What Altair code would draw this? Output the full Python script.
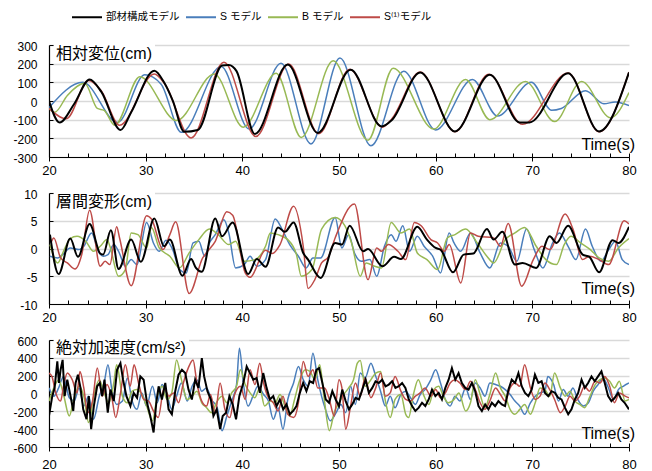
import altair as alt
import pandas as pd

MODELS = ["部材構成モデル", "S モデル", "B モデル", "S⁽¹⁾モデル"]
COLORS = ["#000000", "#4A7EBB", "#98B954", "#BE4B48"]
LINE_W = [2.0, 1.5, 1.5, 1.5]

X_MAJOR = [20, 30, 40, 50, 60, 70, 80]
X_MINOR = [20, 22, 24, 26, 28, 30, 32, 34, 36, 38, 40, 42, 44, 46, 48, 50,
           52, 54, 56, 58, 60, 62, 64, 66, 68, 70, 72, 74, 76, 78, 80]
DISP_TICKS = [-300, -200, -100, 0, 100, 200, 300]
DRIFT_TICKS = [-10, -5, 0, 5, 10]
ACC_TICKS = [-600, -400, -200, 0, 200, 400, 600]

TITLES = ["相対変位(cm)", "層間変形(cm)", "絶対加速度(cm/s²)"]
X_TITLE = "Time(s)"

# ---------------- panel 1: relative displacement (cm) ----------------
disp_black_t = [20.0, 21.1, 22.6, 24.2, 25.4, 27.4, 28.5, 30.9, 31.9, 32.8, 34.0, 35.4, 37.9,
                38.6, 39.4, 41.3, 44.7, 47.8, 51.2, 54.4, 55.5, 58.4, 62.0, 65.6, 68.7, 69.7,
                73.7, 76.9, 80.0]
disp_black_v = [0, -115, -16, 115, 50, -155, -60, 162, 100, 2, -165, -155, 190,
                193, 160, -177, 195, -171, 168, -136, -100, 153, -163, 141, -115, -115,
                148, -163, 153]
disp_blue_t = [20.0, 23.5, 27.1, 29.9, 31.6, 33.7, 37.8, 40.7, 44.0, 47.1, 50.1, 53.3, 56.7,
               60.0, 63.8, 66.4, 69.9, 72.0, 73.0, 75.5, 77.4, 78.6, 80.0]
disp_blue_v = [-35, 100, -115, 140, 90, -168, 185, -150, 202, -230, 230, -240, 160,
               -155, 115, -80, 100, -50, -40, 55, -15, -5, -25]
disp_green_t = [20.0, 20.6, 21.9, 23.7, 25.0, 25.7, 26.8, 29.4, 33.2, 37.1, 40.1, 43.5, 46.1,
                49.4, 53.0, 55.6, 59.8, 63.1, 65.6, 69.3, 72.3, 75.1, 78.1, 80.0]
disp_green_v = [-40, -60, 30, 95, -40, -50, -130, 130, -105, 145, -140, 148, -195,
                215, -210, 175, -150, 115, -100, 105, -110, 105, -90, 45]
disp_red_t = [20.0, 21.8, 24.1, 25.4, 27.3, 30.9, 32.0, 34.7, 38.1, 41.4, 44.8, 47.9, 51.1,
              54.5, 55.4, 58.4, 62.0, 65.5, 69.0, 73.7, 76.9, 80.0]
disp_red_v = [-40, -95, 110, 55, -130, 145, 90, -198, 208, -190, 198, -175, 170,
              -140, -100, 155, -165, 143, -125, 150, -165, 155]

# ---------------- panel 2: inter-storey drift (cm) ----------------
drift_black_t = [20.1, 21.0, 22.2, 23.0, 24.2, 25.3, 25.6, 26.4, 27.2, 28.5, 29.5, 30.9, 31.9,
                 32.5, 33.8, 34.7, 35.2, 35.8, 37.2, 37.9, 39.0, 40.6, 41.5, 42.4, 43.7, 44.4,
                 45.3, 46.3, 46.8, 48.1, 49.6, 50.3, 51.1, 52.5, 53.0, 54.5, 55.7, 56.4, 58.1,
                 59.1, 60.0, 60.5, 61.8, 62.9, 63.9, 65.3, 66.0, 66.9, 68.2, 69.0, 70.4, 71.8,
                 72.5, 73.7, 75.2, 75.9, 76.9, 78.3, 78.9, 80.0]
drift_black_v = [2.5, -4.6, 1.8, -1.5, 4.4, -0.9, -1.1, 3.3, -3.7, 1.6, -2.4, 5.4, 0.4,
                 1.6, -4.9, -1.9, -3.5, -4.2, 5.4, 2.2, 4.7, -4.6, -1.9, -3.3, 3.8, 3.0,
                 4.7, -0.8, -2.0, -5.3, 1.0, 0.7, 4.1, -0.5, -0.1, -3.2, -1.5, -1.9, 3.9,
                 1.6, 0.1, -0.2, -4.3, -1.1, -0.9, 3.5, 1.6, 3.0, -2.9, -2.6, -3.5, 2.2,
                 1.0, 4.1, -1.1, -1.5, -4.3, 1.5, 1.0, 3.9]
drift_blue_t = [20.1, 20.9, 21.4, 22.2, 23.1, 23.6, 24.4, 25.1, 25.6, 26.1, 26.7, 27.2, 27.9,
                28.5, 29.1, 30.1, 30.8, 31.4, 32.1, 32.8, 33.5, 34.2, 34.9, 35.5, 36.1, 36.6,
                37.2, 38.1, 38.6, 39.3, 40.2, 40.8, 41.5, 42.4, 43.4, 44.1, 44.9, 45.8, 46.6,
                47.3, 48.1, 49.6, 50.3, 51.0, 51.6, 52.3, 53.2, 53.9, 54.7, 55.4, 55.9, 56.6,
                57.3, 58.1, 58.8, 59.7, 60.5, 61.4, 61.9, 62.6, 63.6, 64.6, 65.6, 66.7, 67.5,
                68.4, 69.4, 70.2, 71.1, 72.1, 72.8, 73.7, 74.5, 75.5, 76.2, 77.1, 77.9, 78.6,
                79.3, 80.0]
drift_blue_v = [-1.4, -1.7, -1.1, 0.1, -0.2, 0.4, 2.8, -0.5, -1.4, -1.1, 0.7, -0.5, -3.2,
                -2.0, -2.9, 4.7, 1.0, -0.5, 1.5, -0.2, -3.8, -4.4, 1.0, 1.3, -1.4, 1.0,
                2.5, 5.2, 2.8, -3.5, -2.9, -1.4, -3.2, -2.0, 5.3, 3.5, 0.7, -1.4, -3.5,
                -1.7, -1.7, 5.6, 0.1, 2.5, -0.8, -2.3, -2.0, -5.0, 0.4, 2.5, 1.3, 4.1,
                -0.5, 2.2, 0.4, -1.4, -4.4, 2.8, 1.0, -0.5, 2.8, -0.8, -3.5, 1.0, 0.4,
                -2.3, 3.5, -0.2, -3.5, 1.0, 2.8, 0.4, -2.0, 3.5, 0.4, -2.3, -0.2, 1.3,
                -2.0, -2.9]
drift_green_t = [20.1, 20.9, 21.5, 22.2, 22.9, 23.8, 24.6, 25.3, 26.0, 26.3, 27.2, 27.9, 28.5,
                 29.2, 30.1, 30.6, 31.4, 32.5, 33.5, 34.5, 35.5, 36.6, 37.5, 38.6, 39.3, 40.2,
                 41.3, 42.4, 42.9, 43.7, 44.7, 45.6, 46.1, 47.2, 48.2, 49.6, 50.6, 51.3, 52.2,
                 52.8, 53.7, 54.4, 55.4, 56.4, 57.3, 58.1, 59.1, 60.2, 61.2, 62.0, 63.1, 64.3,
                 65.3, 66.0, 67.2, 68.2, 69.2, 70.4, 71.4, 72.5, 73.3, 74.0, 75.0, 76.0, 76.9,
                 77.9, 78.9, 80.0]
drift_green_v = [0.7, -2.6, -0.5, 1.8, 2.2, 1.3, -0.5, 0.4, 1.6, 0.4, -5.0, -3.8, 2.8,
                 2.5, 0.1, 3.8, 0.1, -1.4, -3.5, -0.8, 1.6, 3.5, 2.5, 0.7, 1.3, -2.3,
                 -2.0, 0.4, 2.8, 2.5, 1.6, -1.1, -5.0, -3.8, 3.5, 5.6, 4.1, 1.0, -5.0,
                 -2.6, -3.2, -3.5, 4.7, 2.8, 3.5, -0.8, -2.0, -3.8, 1.9, 2.5, 3.5, 1.0,
                 -1.4, -2.6, 1.6, 2.8, 3.8, 0.4, -2.0, -2.9, 0.7, 2.2, 1.0, -0.2, -1.7,
                 -2.3, 0.1, 1.8]
drift_red_t = [20.2, 20.5, 21.2, 21.9, 22.7, 23.4, 24.2, 25.3, 25.8, 26.3, 27.0, 27.3, 28.5,
               30.1, 30.6, 31.8, 32.5, 33.1, 34.5, 35.9, 36.4, 37.2, 38.4, 39.0, 40.3, 40.8,
               42.4, 43.1, 43.9, 45.3, 46.3, 46.8, 47.5, 48.2, 48.9, 49.6, 51.6, 53.0, 53.9,
               54.4, 55.1, 56.1, 56.9, 57.8, 58.5, 59.5, 60.2, 60.9, 61.4, 62.6, 63.6, 64.4,
               66.0, 66.7, 67.5, 68.9, 70.1, 71.0, 71.8, 73.4, 74.2, 75.2, 75.9, 76.9, 77.9,
               79.5, 80.0]
drift_red_v = [1.0, 1.9, -1.7, -2.6, -3.7, -1.0, 6.9, -3.2, -2.3, -2.9, 3.9, 1.9, -6.7,
               5.9, 5.3, -0.2, 2.5, 4.8, -8.1, -1.7, -0.5, 1.3, 6.6, 6.0, -4.4, -5.2,
               -0.3, -0.9, 0.7, 7.6, 0.4, -7.2, -5.6, -2.6, -1.5, 1.9, 8.0, -5.6, 0.1,
               -0.5, 0.7, -0.5, -2.0, 4.7, 4.1, 1.6, 1.0, -0.5, 0.7, -6.2, 2.8, 2.2,
               1.9, 0.4, 4.5, -6.8, -2.0, 0.4, -0.2, 6.2, 3.5, -2.0, -1.4, -2.0, -2.9,
               5.0, 4.4]

# ---------------- panel 3: absolute acceleration (cm/s2) ----------------
acc_black_t = [20.0, 20.34, 20.58, 20.86, 21.03, 21.2, 21.41, 21.62, 21.89, 22.23,
               22.51, 22.75, 22.99, 23.26, 23.54, 23.88, 24.12, 24.36, 24.64, 24.98,
               25.26, 25.5, 25.74, 26.08, 26.36, 26.7, 27.04, 27.39, 27.66, 28.01,
               28.42, 28.76, 29.11, 29.45, 29.79, 30.14, 30.48, 30.82, 31.1, 31.34,
               31.68, 32.03, 32.37, 32.71, 33.06, 33.4, 33.75, 34.09, 34.43, 34.78,
               35.12, 35.46, 35.81, 36.05, 36.39, 36.74, 37.01, 37.35, 37.7, 37.97,
               38.32, 38.66, 39.0, 39.35, 39.69, 40.1, 40.45, 40.79, 41.13, 41.48,
               41.82, 42.16, 42.51, 42.85, 43.2, 43.54, 43.88, 44.23, 44.57, 44.91,
               45.26, 45.6, 45.95, 46.29, 46.63, 46.98, 47.32, 47.66,
               47.94, 48.28, 48.63, 48.97, 49.31, 49.66, 50.0, 50.34, 50.69, 51.03,
               51.37, 51.72, 52.06, 52.41, 52.75, 53.09, 53.44, 53.78, 54.12, 54.47,
               54.81, 55.15, 55.5, 55.84, 56.19, 56.53, 56.87, 57.22, 57.56, 57.9,
               58.25, 58.59, 58.93, 59.28, 59.62, 59.97, 60.31, 60.65, 61.0, 61.34,
               61.68, 62.03, 62.37, 62.71, 63.06, 63.4, 63.75, 64.09, 64.43, 64.78,
               65.12, 65.46, 65.81, 66.15, 66.49, 66.84, 67.18, 67.53, 67.87, 68.21,
               68.56, 68.9, 69.24, 69.59, 69.93, 70.27, 70.62, 70.96, 71.31, 71.65,
               71.99, 72.34, 72.68, 73.02, 73.37, 73.71, 74.05, 74.4, 74.74, 75.09,
               75.43, 75.77, 76.12, 76.46, 76.8, 77.15, 77.49, 77.84, 78.18, 78.52,
               78.87, 79.21, 79.55, 80.0]
acc_black_v = [-250, -30, 63, 360, 118, 266, 377, -30, 155, -30,
               -196, 118, 211, 63, -178, -289, -30, -400, -141, 81,
               118, -30, 155, -215, 44, -85, 266, 340, 155, -30,
               -141, 7, -48, 192, 155, -104, -252, -437, -104, 81,
               -67, 118, -178, -233, 26, 211, 266, 229, 44, -67,
               155, 63, 396, 192, 26, -67, -252, -178, -400, -252,
               -215, -30, -122, -289, -30, 118, 303, 229, 155, 174,
               7, 229, 63, -67, -30, -141, -67, -178, -122, -233,
               -196, -141, 7, 118, 26, 137, 118, 266,
               285, 118, -67, -104, 26, -67, -141, 44, -85, -178,
               -122, -48, -67, 44, 155, 7, 63, 137, 118, 155,
               81, 100, 137, 63, 81, 118, 63, -67, -141, -196,
               -159, -104, -141, -67, 44, -30, 7, -67, 63, 155,
               285, 155, 229, 118, 63, 44, 118, 26, -141, -196,
               -122, -178, -104, -141, -85, -122, -141, 44, 155, 118,
               229, 81, 7, -30, 44, 211, 118, 137, 7, -30,
               26, 7, -48, -67, -159, -233, -178, -67, 7, 155,
               63, 118, 192, 137, 192, 248, 118, -30, -85, -48,
               7, -67, -104, -178]
acc_blue_t = [20.0, 20.5, 21.0, 21.5, 22.1, 22.6, 23.1, 23.6, 24.1, 24.6,
              25.2, 25.7, 26.1, 26.5, 27.0, 27.6, 28.1, 28.6, 29.1, 29.6,
              30.1, 30.7, 31.2, 31.7, 32.2, 32.7, 33.2, 33.7, 34.3, 34.8,
              35.3, 35.8, 36.3, 36.8, 37.4, 37.9, 38.4, 38.9, 39.4, 39.7,
              40.1, 40.6, 41.1, 41.6, 42.2, 42.7, 43.2, 43.7, 44.2, 44.7,
              45.3, 45.8, 46.3, 46.8, 47.3, 47.8, 48.6, 49.1, 49.7, 50.2,
              50.7, 51.2, 51.7, 52.2, 52.7, 53.3, 53.8, 54.3, 54.8, 55.3,
              55.8, 56.4, 56.9, 57.4, 57.9, 58.4, 58.9, 59.5, 60.0, 60.5,
              61.0, 61.5, 62.0, 62.5, 63.1, 63.6, 64.1, 64.6, 65.1, 65.6,
              66.2, 66.7, 67.2, 67.7, 68.2, 68.7, 69.2, 69.8, 70.3, 70.8,
              71.3, 71.6, 72.2, 72.7, 73.2, 73.7, 74.2, 74.7, 75.3, 75.8,
              76.3, 76.8, 77.3, 77.8, 78.4, 78.9, 79.4, 80.0]
acc_blue_v = [63, -30, 63, 192, -48, -85, 63, -141, -30, -289,
              -30, 118, 322, 44, -122, -85, 174, -85, -178, 7,
              -141, 81, -104, 100, -11, -178, -30, 118, -85, 81,
              155, 26, 63, -67, -159, -418, -252, -85, 100, 507,
              118, -141, -30, 81, -11, -85, -289, -159, -400, -67,
              118, 303, 155, 81, 451, 155, -178, -307, -215, -122,
              -215, 81, -122, 229, 174, 340, 192, 26, -141, -30,
              -159, -11, 26, -48, -122, -11, 44, 155, 266, 118,
              -67, -141, -30, -85, 63, -67, 118, 63, -30, 118,
              100, 81, 44, -11, -85, -141, -233, -104, -30, 7,
              26, 192, 100, -85, 44, -30, 63, -67, -141, -104,
              26, 100, 174, 81, -67, 44, 81, 118]
acc_green_t = [20.0, 20.5, 21.0, 21.5, 22.1, 22.6, 23.1, 23.6, 24.1, 24.6,
               25.2, 25.7, 26.2, 26.7, 27.0, 27.6, 28.1, 28.6, 29.1, 29.6,
               30.1, 30.7, 31.2, 31.7, 32.2, 32.7, 33.2, 33.7, 34.3, 34.8,
               35.3, 35.8, 36.3, 36.8, 37.4, 37.9, 38.4, 38.9, 39.4, 39.8,
               40.3, 40.8, 41.3, 41.8, 42.3, 42.9, 43.4, 43.9, 44.4, 44.9,
               45.4, 45.9, 46.5, 47.0, 47.5, 48.0,
               48.5, 49.0, 49.5, 50.0, 50.5, 51.0, 51.5, 51.9, 52.2, 52.7,
               53.3, 53.8, 54.3, 54.8, 55.3, 55.8, 56.4, 56.9, 57.2, 57.7,
               58.2, 58.8, 59.3, 59.8, 60.3, 60.8, 61.3, 61.9, 62.4, 63.1,
               63.6, 64.1, 64.6, 65.1, 65.6, 66.2, 66.7, 67.2, 67.7, 68.2,
               68.7, 69.2, 69.8, 70.3, 70.8, 71.3, 71.8, 72.3, 72.9, 73.4,
               73.9, 74.4, 74.9, 75.4, 75.9, 76.5, 77.0, 77.5, 78.0, 78.5,
               79.0, 79.6, 80.0]
acc_green_v = [-85, 63, 155, -11, -252, -48, 81, -30, -326, -48,
               155, 7, -104, 118, 322, -30, -104, 26, 44, -11,
               -141, -307, -30, 81, -67, 7, 377, 155, -67, -30,
               26, -104, -159, -215, -85, -30, -104, 7, 81, 266,
               100, 7, -48, 63, -141, -85, -104, -11, -141, -252,
               -67, 137, 266, 248, 155, 322,
               -85, -418, -215, -104, -11, 63, 155, 340, 370, 81,
               155, 229, 248, -85, -270, -67, -11, -233, -270, -11,
               155, -30, -122, 44, 81, -30, -104, -67, 7, -196,
               -104, 155, -11, -159, -11, 229, 63, -30, -178, -233,
               -178, -122, -233, -104, 63, 44, -30, 229, 63, -30,
               26, -85, -122, -159, -48, 100, 155, 174, 137, 63,
               137, -85, -67]
acc_red_t = [20.0, 20.3, 20.7, 21.2, 21.5, 21.9, 22.4, 22.9, 23.2, 23.6,
             24.0, 24.5, 25.0, 25.5, 26.0, 26.5, 26.9, 27.4, 27.9, 28.4,
             28.8, 29.3, 29.8, 30.3, 30.8, 31.3, 31.9, 32.4, 32.9, 33.4,
             33.9, 34.4, 34.9, 35.3, 35.8, 36.3, 36.7, 37.2, 37.7, 38.2,
             38.7, 39.2, 39.8, 40.3, 40.8, 41.3, 41.8, 42.2, 42.7, 43.2,
             43.7, 44.2, 44.7, 45.3, 45.8, 46.3, 46.8, 47.3, 47.8, 48.5,
             49.0, 49.5, 50.0, 50.3, 50.7, 51.2, 51.7, 52.2, 52.7, 53.3,
             53.8, 54.3, 54.8, 55.3, 55.8, 56.4, 56.9, 57.4, 57.9, 58.4,
             58.9, 59.5, 60.0, 60.5, 61.0, 61.5, 62.0, 62.5, 63.1, 63.6,
             64.1, 64.6, 65.1, 65.6, 66.2, 66.7, 67.2, 67.7, 68.2, 68.7,
             69.2, 69.8, 70.3, 70.8, 71.3, 71.8, 72.3, 72.9, 73.4, 73.9,
             74.4, 74.9, 75.4, 75.9, 76.5, 77.0, 77.5, 78.0, 78.5, 79.0,
             79.6, 80.0]
acc_red_v = [229, 192, 7, -85, 81, 229, 155, 7, 248, 63,
             -215, -85, 285, -30, 100, -48, -270, 7, 322, 81,
             322, 100, -67, -85, -196, -270, 63, -30, 7, -104,
             118, 285, 377, 118, -85, -141, -11, -215, 118, -178,
             -270, -11, 81, -67, 266, 100, 340, 118, -48, -104,
             -196, -30, -233, -270, -104, 359, 192, 266, 63, 63,
             -67, -252, 155, 63, -400, -141, 118, -30, 174, -48,
             63, 229, -30, 7, 192, 26, -67, -85, -30, 7,
             63, -30, 44, -48, 7, 118, 155, 118, 44, 137,
             44, -104, -178, -85, 63, -11, -85, 63, 118, 81,
             322, 63, -67, -30, 118, 44, -67, -215, -141, -30,
             -85, -30, 81, 26, 137, 118, 192, 81, -104, 7,
             -30, -48]

DISP = [(disp_black_t, disp_black_v), (disp_blue_t, disp_blue_v),
        (disp_green_t, disp_green_v), (disp_red_t, disp_red_v)]
DRIFT = [(drift_black_t, drift_black_v), (drift_blue_t, drift_blue_v),
         (drift_green_t, drift_green_v), (drift_red_t, drift_red_v)]
ACC = [(acc_black_t, acc_black_v), (acc_blue_t, acc_blue_v),
       (acc_green_t, acc_green_v), (acc_red_t, acc_red_v)]

W = 580
FONT = "Liberation Sans, Noto Sans CJK JP, DejaVu Sans"

# a flat, wide line-symbol for the legend (keeps the entry height small)
LEGEND = alt.Legend(orient="none", legendX=31, legendY=-35, direction="horizontal",
                    title=None, symbolType="M-2.5,0H2.5", symbolSize=144,
                    symbolStrokeWidth=2, symbolOffset=0,
                    labelFont=FONT, labelFontSize=10.5, labelColor="black",
                    columnPadding=2, labelOffset=12)


def panel(series, title, title_w, ticks, height, label_pad, interp_black, interp_other,
          title_y, time_y):
    xscale = alt.Scale(domain=[20, 80], nice=False, zero=False)
    yscale = alt.Scale(domain=[ticks[0], ticks[-1]], nice=False, zero=False)
    color = alt.Color("model:N", scale=alt.Scale(domain=MODELS, range=COLORS), legend=LEGEND)
    # white box behind the panel title (hides the top gridline there)
    box = alt.Chart(pd.DataFrame({"label": [title]})).mark_rect(color="white").encode(
        x=alt.value(5), x2=alt.value(title_w), y=alt.value(-1), y2=alt.value(16))
    layers = [box]
    first = True
    for idx in [1, 2, 3, 0]:
        t, v = series[idx]
        df = pd.DataFrame({"t": t, "v": v, "model": MODELS[idx]})
        if first:
            xax = alt.Axis(orient="bottom", values=X_MAJOR, format="d", tickSize=4,
                           tickColor="black", tickWidth=1, labelPadding=label_pad,
                           labelFlush=False, grid=False, title=None, domainColor="black",
                           domainWidth=1.2, labelFont=FONT, labelFontSize=13,
                           labelColor="black")
            yax = alt.Axis(orient="left", values=ticks, grid=True, gridColor="#d9d9d9",
                           gridWidth=1.5, ticks=False, labelPadding=12, title=None,
                           labelExpr="'' + datum.value", labelOffset=1,
                           domainColor="black", domainWidth=1.2, labelFont=FONT,
                           labelFontSize=12, labelColor="black")
            first = False
        else:
            xax = None
            yax = None
        interp = interp_black if idx == 0 else interp_other
        layers.append(
            alt.Chart(df).mark_line(interpolate=interp, strokeWidth=LINE_W[idx], clip=True)
            .encode(x=alt.X("t:Q", scale=xscale, axis=xax),
                    y=alt.Y("v:Q", scale=yscale, axis=yax),
                    color=color)
        )
    tdf = pd.DataFrame({"t": series[0][0], "v": series[0][1]})
    ticks_layer = alt.Chart(tdf).mark_line(opacity=0).encode(
        x=alt.X("t:Q", scale=xscale,
                axis=alt.Axis(orient="top", offset=-height, values=X_MINOR, labels=False,
                              domain=False, tickSize=4, tickColor="black", grid=False,
                              title=None)),
        y=alt.Y("v:Q", scale=yscale,
                axis=alt.Axis(orient="right", offset=-W, values=ticks, labels=False,
                              domain=False, tickSize=4, tickColor="black", grid=False,
                              title=None)),
    )
    layers.append(ticks_layer)
    title_layer = alt.Chart(pd.DataFrame({"label": [title]})).mark_text(
        align="left", baseline="middle", font=FONT, fontSize=16, color="black"
    ).encode(text="label:N", x=alt.value(7), y=alt.value(title_y))
    time_layer = alt.Chart(pd.DataFrame({"label": [X_TITLE]})).mark_text(
        align="right", baseline="alphabetic", font=FONT, fontSize=16, color="black"
    ).encode(text="label:N", x=alt.value(586), y=alt.value(time_y))
    layers += [title_layer, time_layer]
    return alt.layer(*layers).resolve_axis(x="independent", y="independent").properties(
        width=W, height=height)


p1 = panel(DISP, TITLES[0], 106, DISP_TICKS, 112, 3, "monotone", "monotone", 9, 105)
p2 = panel(DRIFT, TITLES[1], 106, DRIFT_TICKS, 111, 3, "monotone", "monotone", 9, 101)
p3 = panel(ACC, TITLES[2], 140, ACC_TICKS, 107, 7, "linear", "monotone", 8, 99)

chart = alt.vconcat(p1, p2, p3, spacing=36, bounds="flush").properties(
    padding={"left": 4, "top": 2, "right": 5, "bottom": 0},
    background="white",
).configure_view(stroke=None)

chart.save("out.html", embed_options={"renderer": "svg", "actions": False})
